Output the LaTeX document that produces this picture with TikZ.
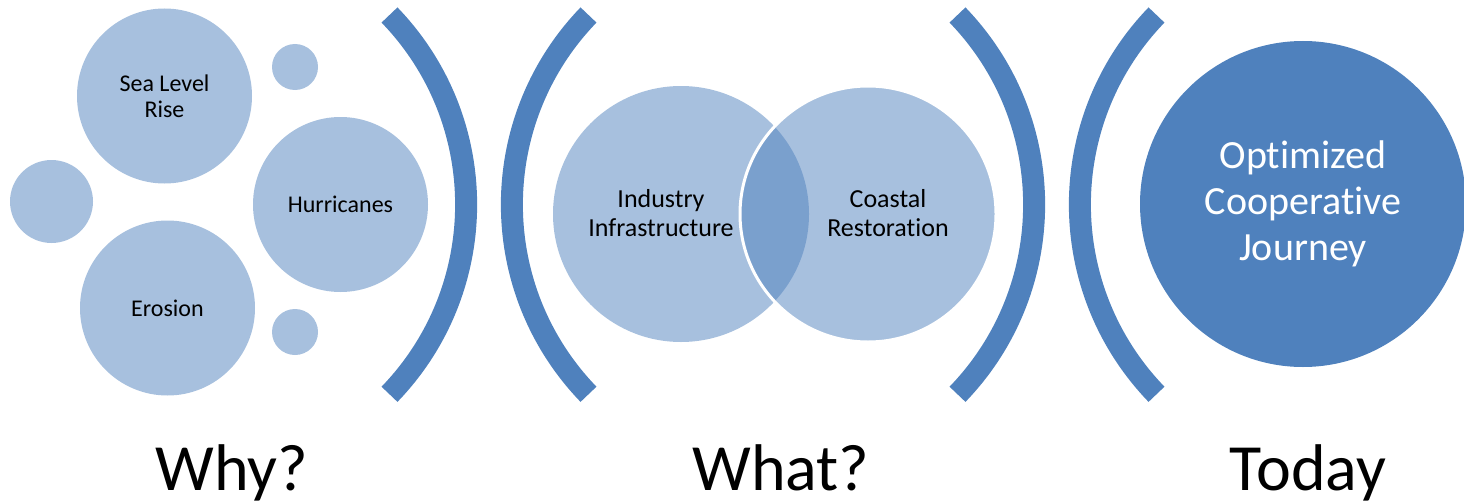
\documentclass[tikz,border=0pt]{standalone}
\usepackage{fontspec}
\setmainfont{Carlito}[Ligatures=CommonOff]
\definecolor{accent}{HTML}{4F81BD}
\begin{document}
\begin{tikzpicture}[x=1pt,y=-1pt,
  bubble/.style={circle, fill=accent!50, inner sep=0pt, align=center, font=\fontsize{24}{26}\selectfont},
  venn/.style={circle, fill=accent, fill opacity=0.5, inner sep=0pt, minimum size=256pt},
  venntext/.style={align=center, font=\fontsize{26}{29}\selectfont},
  bracket/.style={draw=accent, line width=22pt},
  caption/.style={anchor=base, font=\fontsize{66}{66}\selectfont}]
\useasboundingbox (0,0) rectangle (1464,503);
% why
\node[bubble, minimum size=175pt] (sea) at (164.5,96) {Sea Level\\Rise};
\node[bubble, minimum size=175pt] (hur) at (340.5,204.5) {Hurricanes};
\node[bubble, minimum size=175pt] (ero) at (167.5,308) {Erosion};
\node[bubble, minimum size=46pt] (s1) at (295,67) {};
\node[bubble, minimum size=83pt] (s2) at (51.5,201.5) {};
\node[bubble, minimum size=46pt] (s3) at (295,332) {};
% brackets
\foreach \s in {0,568} {
  \draw[bracket] (389.5+\s,15) arc[start angle=44, end angle=-44, radius=273pt];
  \draw[bracket] (588.5+\s,15) arc[start angle=136, end angle=224, radius=273pt];
}
% what
\node[venn] (ind) at (681,214) {};
\node[venn, draw=white, line width=3pt] (coa) at (868,214) {};
\node[venntext] (indt) at (661,213) {Industry\\Infrastructure};
\node[venntext] (coat) at (888,213) {Coastal\\Restoration};
% today
\node[circle, fill=accent, inner sep=0pt, minimum size=326pt, align=center,
  text=white, font=\fontsize{40}{46}\selectfont] (jou) at (1303,204) {Optimized\\Cooperative\\Journey};
% captions
\node[caption] (why) at (232,490) {Why?};
\node[caption] (what) at (781,490) {What?};
\node[caption] (today) at (1308,490) {Today};
\end{tikzpicture}
\end{document}
